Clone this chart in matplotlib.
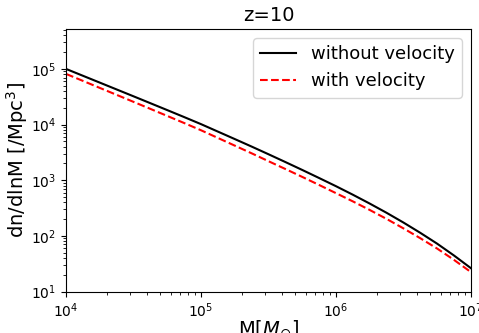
import numpy as np
import matplotlib
matplotlib.use("Agg")
import matplotlib.pyplot as plt

# log10 of halo mass and of dn/dlnM
logM = [4.0, 4.125, 4.25, 4.375, 4.5, 4.625, 4.75, 4.875,
        5.0, 5.125, 5.25, 5.375, 5.5, 5.625, 5.75, 5.875,
        6.0, 6.125, 6.25, 6.375, 6.5, 6.625, 6.75, 6.875, 7.0]
log_no_vel = [5.000, 4.877, 4.754, 4.631, 4.508, 4.384, 4.260, 4.135,
              4.008, 3.874, 3.740, 3.605, 3.467, 3.327, 3.185, 3.040,
              2.893, 2.740, 2.581, 2.415, 2.240, 2.055, 1.860, 1.647, 1.420]
log_vel = [4.910, 4.785, 4.659, 4.534, 4.408, 4.282, 4.155, 4.028,
           3.898, 3.760, 3.622, 3.484, 3.342, 3.202, 3.060, 2.915,
           2.768, 2.620, 2.466, 2.305, 2.135, 1.958, 1.772, 1.568, 1.350]

M = 10 ** np.array(logM)
dn_no_vel = 10 ** np.array(log_no_vel)
dn_vel = 10 ** np.array(log_vel)

fig = plt.figure(figsize=(4.79, 3.33), dpi=100)
ax = fig.add_axes([0.138, 0.1246, 0.845, 0.788])

ax.plot(M, dn_no_vel, color="black", lw=1.5, label="without velocity")
ax.plot(M, dn_vel, color="red", ls="--", lw=1.5, label="with velocity")

ax.set_xscale("log")
ax.set_yscale("log")
ax.set_xlim(1e4, 1e7)
ax.set_ylim(10, 5.2e5)
ax.tick_params(labelsize=10)

ax.set_title("z=10", fontsize=14)
ax.set_xlabel(r"M[$M_{\odot}$]", fontsize=14, labelpad=-1)
ax.set_ylabel(r"dn/dlnM [/Mpc$^3$]", fontsize=14, labelpad=1)
ax.legend(loc="upper right", fontsize=13)

fig.savefig("out.png", dpi=100)
